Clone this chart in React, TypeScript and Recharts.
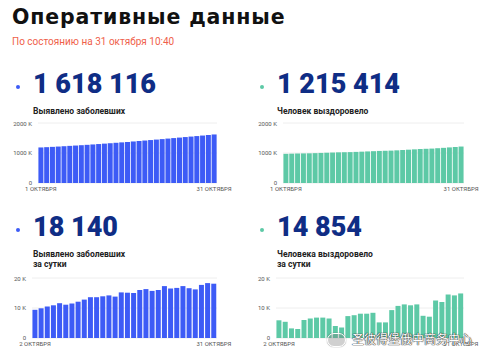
import { BarChart, Bar, XAxis, YAxis, CartesianGrid } from 'recharts';

// дни октября
const monthDays = [1, 2, 3, 4, 5, 6, 7, 8, 9, 10, 11, 12, 13, 14, 15, 16, 17, 18, 19, 20, 21, 22, 23, 24, 25, 26, 27, 28, 29, 30, 31];
const dailyDays = [2, 3, 4, 5, 6, 7, 8, 9, 10, 11, 12, 13, 14, 15, 16, 17, 18, 19, 20, 21, 22, 23, 24, 25, 26, 27, 28, 29, 30, 31];

// тыс. человек
const casesTotal = [1185.2, 1194.6, 1204.5, 1215.0, 1225.9, 1237.5, 1248.6, 1260.1, 1272.2, 1285.0, 1298.6, 1312.2, 1326.1, 1340.3, 1354.1, 1369.3, 1384.4, 1399.4, 1415.4, 1431.7, 1447.4, 1463.4, 1480.7, 1497.2, 1513.9, 1531.2, 1547.8, 1564.0, 1581.7, 1600.0, 1618.1];
const recoveredTotal = [972.0, 977.9, 983.3, 986.5, 989.5, 995.5, 1002.0, 1008.8, 1015.6, 1022.1, 1026.1, 1029.6, 1036.9, 1044.5, 1052.6, 1060.7, 1069.1, 1074.3, 1079.5, 1088.8, 1099.5, 1110.7, 1121.6, 1132.8, 1140.2, 1147.3, 1159.8, 1171.8, 1186.3, 1200.5, 1215.4];
const casesDaily = [9.4, 9.9, 10.5, 10.9, 11.6, 11.1, 11.5, 12.1, 12.8, 13.6, 13.6, 13.9, 14.2, 13.8, 15.2, 15.1, 15.0, 16.0, 16.3, 15.7, 16.0, 17.3, 16.5, 16.7, 17.3, 16.6, 16.2, 17.7, 18.3, 18.1];
const recoveredDaily = [5.9, 5.4, 3.2, 3.0, 6.0, 6.5, 6.8, 6.8, 6.5, 4.0, 3.5, 7.3, 7.6, 8.1, 8.1, 8.4, 5.2, 5.2, 9.3, 10.7, 11.2, 10.9, 11.2, 7.4, 7.1, 12.5, 12.0, 14.5, 14.2, 14.85];

const totalTicks = [0, 1000, 2000];
const dailyTicks = [0, 10, 20];

const BLUE = '#3d5bf6';
const GREEN = '#5dc9a6';
const NAVY = '#0f2d85';

const toRows = (days: number[], vals: number[]) => days.map((d, i) => ({ day: d, value: vals[i] }));

const edgeTick = (first: number, last: number) => (props: any) => {
  const { x, y, payload } = props;
  if (payload.value !== first && payload.value !== last) return <g />;
  return (
    <text x={x} y={y} dy={6} textAnchor="middle" fontSize={6} fill="#555" fontFamily="Roboto">
      {`${payload.value} ОКТЯБРЯ`}
    </text>
  );
};

const yTick = (props: any) => {
  const { x, y, payload } = props;
  return (
    <text x={x} y={y} dy={2} textAnchor="end" fontSize={6} fill="#555" fontFamily="Roboto">
      {payload.value === 0 ? '0' : `${payload.value} K`}
    </text>
  );
};

interface PanelProps {
  left: number;
  top: number;
  color: string;
  value: string;
  label: string[];
  days: number[];
  values: number[];
  ticks: number[];
  axisWidth: number;
  plotWidth: number;
  chartTop: number;
}

function Panel({ left, top, color, value, label, days, values, ticks, axisWidth, plotWidth, chartTop }: PanelProps) {
  const data = toRows(days, values);
  return (
    <>
      <div style={{ position: 'absolute', left: left + 16, top: top + 14, width: 4, height: 4, borderRadius: 2, background: color }} />
      <div style={{ position: 'absolute', left: left + 33, top, fontFamily: 'Roboto', fontWeight: 900, fontSize: 27, lineHeight: '26px', color: NAVY, whiteSpace: 'nowrap' }}>
        {value}
      </div>
      <div style={{ position: 'absolute', left: left + 33, top: top + 35, fontFamily: 'Roboto', fontWeight: 700, fontSize: 8.5, lineHeight: '10px', color: '#222', whiteSpace: 'nowrap' }}>
        {label.map((l) => <div key={l}>{l}</div>)}
      </div>
      <div style={{ position: 'absolute', left, top: chartTop }}>
        <BarChart width={axisWidth + plotWidth + 18} height={77} data={data} margin={{ top: 8, right: 18, bottom: 0, left: 0 }} barCategoryGap="7%">
          <CartesianGrid vertical={false} stroke="#eeeeee" />
          <XAxis dataKey="day" interval={0} axisLine={false} tickLine={false} tickSize={0} tickMargin={2} height={9} tick={edgeTick(days[0], days[days.length - 1])} />
          <YAxis width={axisWidth} domain={[0, ticks[2]]} ticks={ticks} axisLine={false} tickLine={false} tickSize={0} tickMargin={6} tick={yTick} />
          <Bar dataKey="value" fill={color} isAnimationActive={false} />
        </BarChart>
      </div>
    </>
  );
}

export default function App() {
  return (
    <div style={{ position: 'absolute', left: 0, top: 0, width: 488, height: 364, background: '#fff', overflow: 'hidden' }}>
      <div style={{ position: 'absolute', left: 12, top: 7, fontFamily: 'DejaVu Sans', fontWeight: 700, fontSize: 20.5, lineHeight: '20px', letterSpacing: 0.85, color: '#111', whiteSpace: 'nowrap' }}>
        Оперативные данные
      </div>
      <div style={{ position: 'absolute', left: 12, top: 36, fontFamily: 'Roboto', fontSize: 10, lineHeight: '12px', color: '#ef5f4b', whiteSpace: 'nowrap' }}>
        По состоянию на 31 октября 10:40
      </div>

      <Panel left={0} top={71} color={BLUE} value="1 618 116" label={['Выявлено заболевших']} days={monthDays} values={casesTotal}
        ticks={totalTicks} axisWidth={38} plotWidth={179} chartTop={115} />
      <Panel left={244} top={71} color={GREEN} value="1 215 414" label={['Человек выздоровело']} days={monthDays} values={recoveredTotal}
        ticks={totalTicks} axisWidth={39} plotWidth={181} chartTop={115} />
      <Panel left={0} top={214} color={BLUE} value="18 140" label={['Выявлено заболевших', 'за сутки']} days={dailyDays} values={casesDaily}
        ticks={dailyTicks} axisWidth={32} plotWidth={185} chartTop={270} />
      <Panel left={244} top={214} color={GREEN} value="14 854" label={['Человека выздоровело', 'за сутки']} days={dailyDays} values={recoveredDaily}
        ticks={dailyTicks} axisWidth={32} plotWidth={188} chartTop={270} />

      <div style={{ position: 'absolute', left: 327, top: 333, width: 17, height: 12, borderRadius: 7, border: '1.5px solid #fff', boxShadow: '0 0 1px #444', background: 'rgba(120,120,120,0.35)' }} />
      <div style={{ position: 'absolute', left: 352, top: 332, fontFamily: 'Noto Sans CJK SC', fontSize: 12, lineHeight: '14px', color: '#fff', textShadow: '0 0 1px #333, 0 0 1px #333, 0 0 1px #333', whiteSpace: 'nowrap' }}>
        圣彼得堡俄中商务中心
      </div>
    </div>
  );
}
